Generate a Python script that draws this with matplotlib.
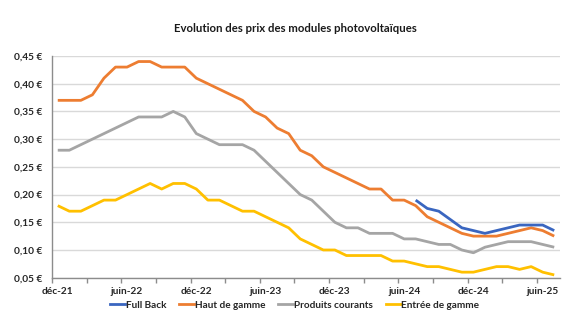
import matplotlib
matplotlib.use("Agg")
import matplotlib.pyplot as plt
from matplotlib.lines import Line2D
import numpy as np

# Monthly prices (EUR/Wc), déc-21 .. juil-25
months = ["déc-21", "janv-22", "févr-22", "mars-22", "avr-22", "mai-22", "juin-22",
          "juil-22", "août-22", "sept-22", "oct-22", "nov-22", "déc-22",
          "janv-23", "févr-23", "mars-23", "avr-23", "mai-23", "juin-23",
          "juil-23", "août-23", "sept-23", "oct-23", "nov-23", "déc-23",
          "janv-24", "févr-24", "mars-24", "avr-24", "mai-24", "juin-24",
          "juil-24", "août-24", "sept-24", "oct-24", "nov-24", "déc-24",
          "janv-25", "févr-25", "mars-25", "avr-25", "mai-25", "juin-25", "juil-25"]

full_back = [None] * 31 + [0.19, 0.175, 0.17, 0.155, 0.14, 0.135, 0.13,
                           0.135, 0.14, 0.145, 0.145, 0.145, 0.135]

haut_de_gamme = [0.37, 0.37, 0.37, 0.38, 0.41, 0.43, 0.43, 0.44, 0.44, 0.43, 0.43,
                 0.43, 0.41, 0.40, 0.39, 0.38, 0.37, 0.35, 0.34, 0.32, 0.31, 0.28,
                 0.27, 0.25, 0.24, 0.23, 0.22, 0.21, 0.21, 0.19, 0.19, 0.18, 0.16,
                 0.15, 0.14, 0.13, 0.125, 0.125, 0.125, 0.13, 0.135, 0.14, 0.135, 0.125]

produits_courants = [0.28, 0.28, 0.29, 0.30, 0.31, 0.32, 0.33, 0.34, 0.34, 0.34, 0.35,
                     0.34, 0.31, 0.30, 0.29, 0.29, 0.29, 0.28, 0.26, 0.24, 0.22, 0.20,
                     0.19, 0.17, 0.15, 0.14, 0.14, 0.13, 0.13, 0.13, 0.12, 0.12, 0.115,
                     0.11, 0.11, 0.10, 0.095, 0.105, 0.11, 0.115, 0.115, 0.115, 0.11, 0.105]

entree_de_gamme = [0.18, 0.17, 0.17, 0.18, 0.19, 0.19, 0.20, 0.21, 0.22, 0.21, 0.22,
                   0.22, 0.21, 0.19, 0.19, 0.18, 0.17, 0.17, 0.16, 0.15, 0.14, 0.12,
                   0.11, 0.10, 0.10, 0.09, 0.09, 0.09, 0.09, 0.08, 0.08, 0.075, 0.07,
                   0.07, 0.065, 0.06, 0.06, 0.065, 0.07, 0.07, 0.065, 0.07, 0.06, 0.055]

series_names = ["Full Back", "Haut de gamme", "Produits courants", "Entrée de gamme"]
series_colors = ["#3A66C0", "#ED7D31", "#A5A5A5", "#FFC000"]

y_ticks = [0.05, 0.10, 0.15, 0.20, 0.25, 0.30, 0.35, 0.40, 0.45]

plt.rcParams["font.family"] = ["Lato", "DejaVu Sans"]

fig = plt.figure(figsize=(5.8, 3.3), dpi=100)
ax = fig.add_axes([52 / 580, 1 - 277.7 / 330, 508 / 580, (277.7 - 56) / 330])

x = np.arange(len(months))
all_series = [full_back, haut_de_gamme, produits_courants, entree_de_gamme]
# draw order: back-most first
for data, color in zip(all_series[::-1], series_colors[::-1]):
    y = np.array([np.nan if v is None else v for v in data], dtype=float)
    ax.plot(x, y, color=color, lw=2.0, solid_joinstyle="round", solid_capstyle="butt", zorder=3)

ax.set_xlim(-0.5, len(months) - 0.5)
ax.set_ylim(0.05, 0.45)

ax.set_yticks(y_ticks)
ax.set_yticklabels([f"{v:.2f} €".replace(".", ",") for v in y_ticks])
ax.yaxis.grid(True, color="#D9D9D9", lw=1.0, zorder=0)
ax.tick_params(axis="y", length=0, pad=7, labelsize=7.3, labelcolor="#262626")
for lab in ax.get_yticklabels():
    lab.set_fontweight("bold")

label_idx = list(range(0, len(months), 6))
ax.set_xticks(label_idx)
ax.set_xticklabels([months[i] for i in label_idx])
ax.set_xticks(np.arange(-0.5, len(months), 3), minor=True)
ax.tick_params(axis="x", which="major", length=0, pad=7, labelsize=7.3, labelcolor="#262626")
ax.tick_params(axis="x", which="minor", length=3.5, width=1, color="#8C8C8C", direction="out")
for lab in ax.get_xticklabels():
    lab.set_fontweight("bold")

for side in ("top", "right"):
    ax.spines[side].set_visible(False)
for side in ("left", "bottom"):
    ax.spines[side].set_color("#8C8C8C")
    ax.spines[side].set_linewidth(1.0)

fig.text(0.51, 1 - 28 / 330, "Evolution des prix des modules photovoltaïques",
         ha="center", va="center", fontsize=8.2, fontweight="bold", color="#1A1A1A")

handles = [Line2D([0], [0], color=c, lw=2.0) for c in series_colors]
leg = fig.legend(handles, series_names, loc="center", ncol=4,
                 bbox_to_anchor=(0.508, 1 - 305 / 330), frameon=False,
                 handlelength=1.5, handletextpad=0.05, columnspacing=1.3,
                 prop={"size": 7.2, "weight": "bold"})
for t in leg.get_texts():
    t.set_color("#262626")

fig.savefig("out.png", dpi=100, facecolor="white")
